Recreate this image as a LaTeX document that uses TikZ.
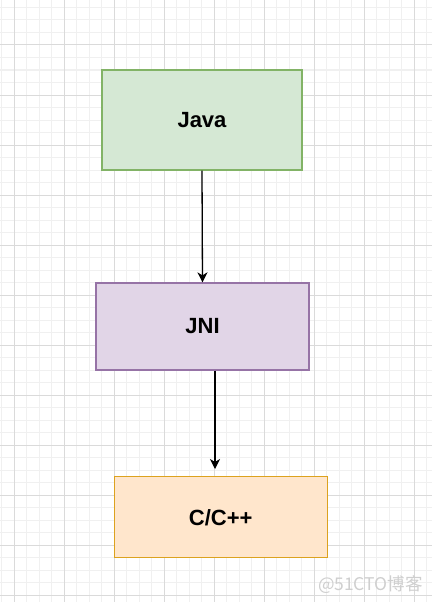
\documentclass[tikz,border=0pt]{standalone}
\usepackage{fontspec}
\setmainfont{Liberation Sans}
\newfontfamily\cjkfont{Noto Sans CJK SC}
\usetikzlibrary{arrows.meta}
\definecolor{gminor}{HTML}{F0F0F0}
\definecolor{gmajor}{HTML}{DADADA}
\definecolor{javafill}{HTML}{D5E8D4}
\definecolor{javaline}{HTML}{82B366}
\definecolor{jnifill}{HTML}{E1D5E7}
\definecolor{jniline}{HTML}{9673A6}
\definecolor{cfill}{HTML}{FFE6CC}
\definecolor{cline}{HTML}{DCA21E}
\definecolor{wmark}{HTML}{CFCFCF}
\tikzset{
  boxstyle/.style={draw, line width=1.3pt, inner sep=0pt, font=\fontsize{22}{26}\selectfont\bfseries},
  arrowstyle/.style={line width=1.3pt, -{Stealth[length=10pt,width=10pt,inset=3pt]}}
}
\begin{document}
\begin{tikzpicture}[x=1pt,y=-1pt]
\useasboundingbox (0,0) rectangle (432,602);
\fill[white] (0,0) rectangle (432,602);
% minor grid
\foreach \k in {-1,...,34} {
  \draw[gminor, line width=1pt] ({14.3+12.5*\k},0) -- ({14.3+12.5*\k},602);
}
\foreach \k in {-3,...,44} {
  \draw[gminor, line width=1pt] (0,{45+12.5*\k}) -- (432,{45+12.5*\k});
}
% major grid
\foreach \k in {0,...,8} {
  \draw[gmajor, line width=1pt] ({14.3+50*\k},0) -- ({14.3+50*\k},602);
}
\foreach \k in {-1,...,11} {
  \draw[gmajor, line width=1pt] (0,{45+50*\k}) -- (432,{45+50*\k});
}
% boxes
\node[boxstyle, fill=javafill, draw=javaline, minimum width=200pt, minimum height=100pt] (java) at (202,120) {Java};
\node[boxstyle, fill=jnifill, draw=jniline, minimum width=213pt, minimum height=87pt] (jni) at (202.5,326.5) {JNI};
\node[boxstyle, fill=cfill, draw=cline, minimum width=213pt, minimum height=81pt] (cpp) at (220.7,517.3) {C/C++};
% arrows
\draw[arrowstyle] (java.south) -- (jni.north);
\coordinate (a2start) at ([xshift=12.5pt]jni.south);
\coordinate (a2end) at (215,469);
\draw[arrowstyle] (a2start) -- (a2end);
% watermark
\node[wmark, font=\cjkfont\fontsize{17.5}{20}\selectfont, anchor=east, inner sep=0pt] (wm) at (423,584.5) {@51CTO博客};
\end{tikzpicture}
\end{document}
